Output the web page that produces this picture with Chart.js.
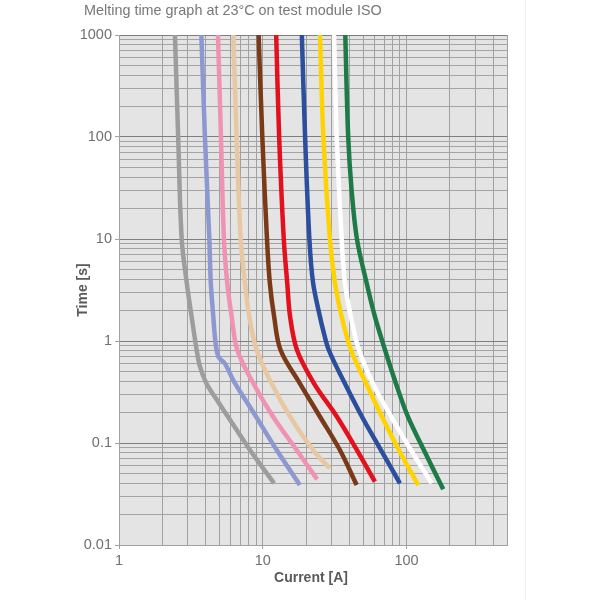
<!DOCTYPE html>
<html lang="en">
<head>
  <meta charset="UTF-8" />
  <title>Melting time graph at 23°C on test module ISO</title>
  <script src="https://cdn.jsdelivr.net/npm/chart.js"></script>
  <style>
    body {
      margin: 0;
      padding: 0;
      background: #ffffff;
    }
    .wrap {
      position: relative;
      width: 600px;
      height: 600px;
    }
    .edge {
      position: absolute;
      left: 525px;
      top: 0;
      width: 1px;
      height: 600px;
      background: #f0f0f0;
    }
  </style>
</head>
<body>
  <div class="wrap">
    <div class="edge"></div>
    <canvas id="meltChart"></canvas>
  </div>

  <script>
    // Texts
    const chartTitle = 'Melting time graph at 23°C on test module ISO';
    const xTitle = 'Current [A]';
    const yTitle = 'Time [s]';

    // Axis ranges and labelled ticks
    const xRange = [1, 500];
    const yRange = [0.01, 1000];
    const xTickLabels = [1, 10, 100];
    const yTickLabels = [0.01, 0.1, 1, 10, 100, 1000];

    // Curves, [current A, time s]
    const greyCurve = [[2.45, 1000], [2.58, 100], [2.73, 10], [2.96, 3.7], [3.2, 1.73], [3.47, 0.816], [3.66, 0.56], [4.05, 0.385], [4.8, 0.264], [5.73, 0.181], [8.15, 0.0853], [11.97, 0.0403]];
    const lavenderCurve = [[3.74, 1000], [3.96, 100], [4.25, 10], [4.35, 3.7], [4.53, 1.73], [4.68, 1.0], [4.92, 0.7], [5.46, 0.6], [6.31, 0.4], [8.6, 0.2], [12.5, 0.0853], [18.1, 0.0387]];
    const pinkCurve = [[4.88, 1000], [5.12, 100], [5.37, 10], [5.66, 3.7], [6.08, 1.73], [6.65, 0.816], [8.59, 0.385], [11.8, 0.181], [17.2, 0.0853], [23.9, 0.044]];
    const beigeCurve = [[6.24, 1000], [6.58, 100], [7.02, 10], [7.52, 3.7], [8.06, 1.73], [9.07, 0.816], [11.5, 0.385], [15.5, 0.181], [22.4, 0.0853], [29.3, 0.0565]];
    const brownCurve = [[9.36, 1000], [9.93, 100], [10.7, 10], [11.2, 3.7], [12.0, 1.73], [13.3, 0.816], [18.1, 0.385], [25.0, 0.181], [34.4, 0.0853], [45.0, 0.0387]];
    const redCurve = [[12.4, 1000], [13.0, 100], [14.0, 10], [14.8, 3.7], [15.5, 1.73], [17.3, 0.816], [22.7, 0.385], [32.8, 0.181], [45.2, 0.0853], [60.3, 0.0418]];
    const blueCurve = [[18.7, 1000], [19.7, 100], [21.1, 10], [22.4, 3.7], [25.0, 1.73], [26.3, 1.28], [28.8, 0.816], [37.2, 0.385], [49.0, 0.181], [66.4, 0.0853], [90.0, 0.0403]];
    const yellowCurve = [[25.0, 1000], [26.4, 100], [29.3, 10], [31.8, 3.7], [35.4, 1.73], [41.1, 0.816], [52.3, 0.385], [67.5, 0.181], [88.5, 0.0853], [120.6, 0.0387]];
    const whiteCurve = [[31.3, 1000], [32.7, 100], [35.4, 10], [37.3, 3.7], [41.0, 1.73], [46.7, 0.816], [58.3, 0.385], [78.2, 0.181], [107.3, 0.0853], [149.5, 0.0403]];
    const greenCurve = [[37.5, 1000], [39.3, 100], [41.5, 30], [45.2, 10], [52.8, 3.7], [60.3, 1.73], [70.9, 0.816], [84.3, 0.385], [102.3, 0.181], [132.0, 0.0853], [180.0, 0.0352]];

    const curves = [greyCurve, lavenderCurve, pinkCurve, beigeCurve, brownCurve, redCurve, blueCurve, yellowCurve, whiteCurve, greenCurve];
    const curveColors = ['#9d9d9d', '#8e98d0', '#f092b2', '#e8c7a3', '#7a3a17', '#e3101d', '#2b4e9d', '#ffd300', '#ffffff', '#1e7a46'];

    // 1..9 steps of every decade between two limits, for the grid
    function logSteps(lo, hi) {
      const out = [];
      for (let k = Math.floor(Math.log10(lo)); k <= Math.ceil(Math.log10(hi)); k++) {
        for (let m = 1; m <= 9; m++) {
          const v = Number((m * Math.pow(10, k)).toPrecision(3));
          if (v >= lo - 1e-9 && v <= hi + 1e-9) out.push(v);
        }
      }
      return out;
    }

    function isLabelled(v, list) {
      return list.some(t => Math.abs(v - t) / t < 1e-6);
    }

    const plotBackground = {
      id: 'plotBackground',
      beforeDraw(chart) {
        const { ctx, chartArea: a } = chart;
        ctx.save();
        ctx.fillStyle = '#e4e4e4';
        ctx.fillRect(a.left, a.top, a.right - a.left, a.bottom - a.top);
        ctx.restore();
      }
    };

    const texts = {
      id: 'texts',
      afterDraw(chart) {
        const { ctx } = chart;
        ctx.save();
        ctx.fillStyle = '#777777';
        ctx.font = '14.4px "Liberation Sans", Arial, sans-serif';
        ctx.textAlign = 'left';
        ctx.textBaseline = 'middle';
        ctx.fillText(chartTitle, 84, 11);

        ctx.fillStyle = '#595959';
        ctx.font = 'bold 14px "Liberation Sans", Arial, sans-serif';
        ctx.textAlign = 'center';
        ctx.fillText(xTitle, 311, 578);

        ctx.translate(83, 290);
        ctx.rotate(-Math.PI / 2);
        ctx.fillText(yTitle, 0, 0);
        ctx.restore();
      }
    };

    const tickFont = { family: '"Liberation Sans", Arial, sans-serif', size: 14.5 };

    new Chart(document.getElementById('meltChart').getContext('2d'), {
      type: 'line',
      data: {
        datasets: curves.map((c, i) => ({
          data: c.map(p => ({ x: p[0], y: p[1] })),
          borderColor: curveColors[i],
          borderWidth: 4.5,
          borderCapStyle: 'butt',
          borderJoinStyle: 'round',
          pointRadius: 0,
          fill: false,
          tension: 0.35
        }))
      },
      options: {
        responsive: true,
        maintainAspectRatio: false,
        animation: false,
        layout: { padding: { left: 0, right: 93, top: 35, bottom: 0 } },
        plugins: {
          legend: { display: false },
          tooltip: { enabled: false }
        },
        scales: {
          x: {
            type: 'logarithmic',
            min: xRange[0],
            max: xRange[1],
            afterBuildTicks: s => { s.ticks = logSteps(xRange[0], xRange[1]).map(v => ({ value: v })); },
            afterFit: s => { s.height = 55; },
            ticks: {
              autoSkip: false,
              maxRotation: 0,
              padding: 3,
              color: '#707070',
              font: tickFont,
              callback: v => isLabelled(v, xTickLabels) ? String(v) : ''
            },
            grid: {
              color: '#a0a0a0',
              lineWidth: 1,
              tickLength: 4,
              tickColor: c => isLabelled(c.tick.value, xTickLabels) ? '#a0a0a0' : 'rgba(0,0,0,0)'
            },
            border: { color: '#a0a0a0' }
          },
          y: {
            type: 'logarithmic',
            min: yRange[0],
            max: yRange[1],
            afterBuildTicks: s => { s.ticks = logSteps(yRange[0], yRange[1]).map(v => ({ value: v })); },
            afterFit: s => { s.width = 119; },
            ticks: {
              autoSkip: false,
              padding: 3,
              color: '#707070',
              font: tickFont,
              callback: v => isLabelled(v, yTickLabels) ? String(v) : ''
            },
            grid: {
              color: c => isLabelled(c.tick.value, yTickLabels) ? '#7e7e7e' : '#a3a3a3',
              lineWidth: 1,
              tickLength: 4,
              tickColor: c => isLabelled(c.tick.value, yTickLabels) ? '#a0a0a0' : 'rgba(0,0,0,0)'
            },
            border: { color: '#a0a0a0' }
          }
        }
      },
      plugins: [plotBackground, texts]
    });
  </script>
</body>
</html>
